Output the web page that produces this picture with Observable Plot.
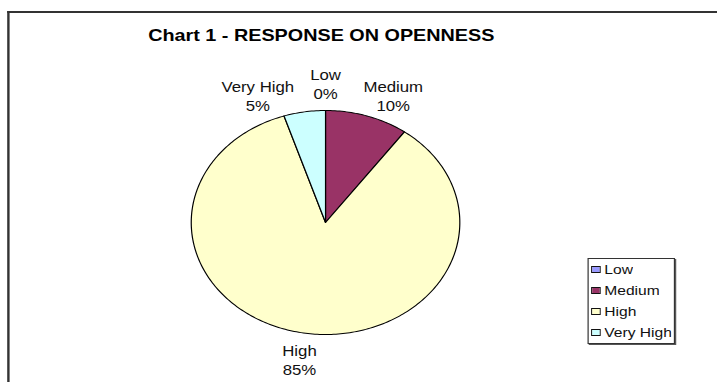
<!DOCTYPE html>
<html><head><meta charset="utf-8">
<script src="https://cdn.jsdelivr.net/npm/d3@7"></script>
<script src="https://cdn.jsdelivr.net/npm/@observablehq/plot@0.6"></script>
<style>
html,body{margin:0;padding:0;background:#fff;overflow:hidden}
#wrap{position:relative;width:598px;height:382px;transform:scaleX(1.199);transform-origin:0 0;}
#frame{position:absolute;left:6px;top:11px;width:700px;height:400px;border-left:2px solid #333;border-top:2px solid #333;}
#title{position:absolute;left:68px;width:400px;top:26px;line-height:16px;text-align:center;font:bold 16.5px "Liberation Sans",Arial,sans-serif;color:#000;}
#chart{position:absolute;left:0;top:0}
#legend{position:absolute;left:490px;top:258px;width:71px;border:1px solid #333;background:#fff;box-shadow:1px 1px 0 #555;}
#legend .L-swatches{margin:0;min-height:0;font:13px "Liberation Sans",Arial,sans-serif;color:#111;}
#legend .L-swatch{height:21px;padding:0 0 0 2px;margin:0;display:flex;align-items:center;}
#legend .L-swatch svg{border:1px solid #111;margin-right:3px;box-sizing:content-box;}
</style>
</head><body>
<div id="wrap">
  <div id="frame"></div>
  <div id="chart"></div>
  <div id="title"></div>
  <div id="legend"></div>
</div>
<script>
const categories = ["Low", "Medium", "High", "Very High"];
const values = [0, 10, 85, 5];
const colors = ["#9999FF", "#993366", "#FFFFCC", "#CCFFFF"];
const title = "Chart 1 - RESPONSE ON OPENNESS";

document.getElementById("title").textContent = title;

const data = categories.map((c, i) => ({category: c, value: values[i]}));
const total = d3.sum(values);
const arcs = d3.pie().sort(null).value(d => d.value)(data);

const slicePts = arcs.flatMap(a => {
  const n = Math.max(1, Math.ceil((a.endAngle - a.startAngle) / (Math.PI / 180)));
  const pts = [{category: a.data.category, x: 0, y: 0}];
  for (let k = 0; k <= n; k++) {
    const t = a.startAngle + (a.endAngle - a.startAngle) * k / n;
    pts.push({category: a.data.category, x: Math.sin(t), y: Math.cos(t)});
  }
  return pts;
});

// label angles: mid-angle, spread apart (min separation) away from the label nearest the top
const sep = 24 * Math.PI / 180;
let labs = arcs.map(a => {
  let m = (a.startAngle + a.endAngle) / 2;
  if (m > Math.PI) m -= 2 * Math.PI;
  const pct = Math.round(a.data.value / total * 100) + "%";
  return {text: a.data.category + "\n" + pct, ang: m};
});
labs.sort((a, b) => a.ang - b.ang);
const i0 = d3.minIndex(labs, d => Math.abs(d.ang));
for (let i = i0 + 1; i < labs.length; i++) labs[i].ang = Math.max(labs[i].ang, labs[i - 1].ang + sep);
for (let i = i0 - 1; i >= 0; i--) labs[i].ang = Math.min(labs[i].ang, labs[i + 1].ang - sep);
const R = 1.24;
labs = labs.map(d => ({text: d.text, x: Math.sin(d.ang) * R, y: Math.cos(d.ang) * R}));

const chart = Plot.plot({
  width: 598, height: 382, margin: 0,
  x: {domain: [-1, 1], range: [159, 383], axis: null},
  y: {domain: [-1, 1], range: [334, 110], axis: null},
  color: {domain: categories, range: colors},
  style: {fontFamily: "Liberation Sans, Arial, sans-serif", background: "transparent", overflow: "visible"},
  marks: [
    Plot.line(slicePts, {x: "x", y: "y", z: "category", fill: "category", stroke: "#000", strokeWidth: 1, curve: "linear-closed"}),
    Plot.text(labs, {x: "x", y: "y", text: "text", lineAnchor: "middle", textAnchor: "middle", lineHeight: 1.36, fontSize: 14, fill: "#111"})
  ]
});
document.getElementById("chart").appendChild(chart);

const leg = Plot.legend({
  color: {type: "ordinal", domain: categories, range: colors},
  legend: "swatches", columns: 1, swatchWidth: 6, swatchHeight: 5, className: "L"
});
document.getElementById("legend").appendChild(leg);
</script>
</body></html>
